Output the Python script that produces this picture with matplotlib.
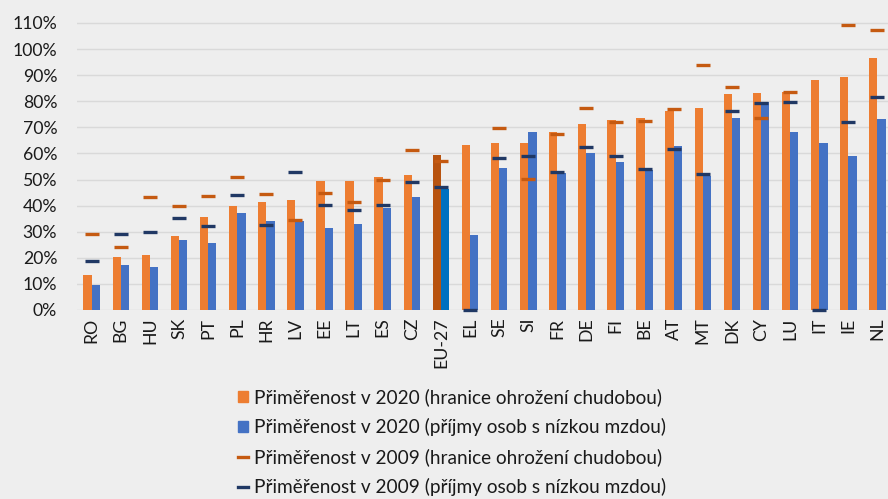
import matplotlib.pyplot as plt
import numpy as np
from matplotlib.lines import Line2D
from matplotlib.patches import Patch

# values, share of the threshold (1.0 = 100 %)
countries = ["RO", "BG", "HU", "SK", "PT", "PL", "HR", "LV", "EE", "LT", "ES", "CZ", "EU-27", "EL",
             "SE", "SI", "FR", "DE", "FI", "BE", "AT", "MT", "DK", "CY", "LU", "IT", "IE", "NL"]
poverty_2020 = [13.3, 20.2, 21.0, 28.5, 35.6, 39.8, 41.3, 42.3, 49.4, 49.5, 50.8, 51.7, 59.4, 63.1,
                63.9, 64.0, 68.1, 71.4, 72.7, 73.4, 76.4, 77.3, 82.8, 83.0, 83.5, 88.2, 89.1, 96.7]
lowwage_2020 = [9.6, 17.2, 16.3, 26.7, 25.7, 37.3, 34.0, 34.0, 31.3, 33.0, 39.2, 43.2, 46.4, 28.7,
                54.4, 68.1, 52.4, 60.0, 56.8, 53.6, 62.8, 51.5, 73.7, 79.7, 68.3, 64.0, 59.0, 73.2]
poverty_2009 = [29.1, 24.3, 43.4, 39.8, 43.7, 50.8, 44.4, 34.5, 44.8, 41.4, 49.7, 61.4, 57.1, np.nan,
                69.6, 50.2, 67.3, 77.5, 72.0, 72.4, 76.9, 93.9, 85.3, 73.4, 83.4, np.nan, 109.1, 107.2]
lowwage_2009 = [18.9, 29.1, 29.9, 35.2, 32.2, 44.1, 32.7, 52.9, 40.2, 38.3, 40.1, 48.9, 47.1, 0.0,
                58.2, 59.1, 53.0, 62.5, 58.9, 54.0, 61.6, 52.0, 76.1, 79.4, 79.7, 0.0, 71.9, 81.5]

legend_labels = [
    "Přiměřenost v 2020 (hranice ohrožení chudobou)",
    "Přiměřenost v 2020 (příjmy osob s nízkou mzdou)",
    "Přiměřenost v 2009 (hranice ohrožení chudobou)",
    "Přiměřenost v 2009 (příjmy osob s nízkou mzdou)",
]

ORANGE = "#ED7D31"
BLUE = "#4472C4"
ORANGE_DARK = "#C55A11"
NAVY = "#203864"
EU_ORANGE = "#B8530F"
EU_BLUE = "#0070C0"
BG = "#EEEEEE"

plt.rcParams["font.family"] = ["Lato", "DejaVu Sans"]
FS = 12.7

W, H = 888, 499
fig = plt.figure(figsize=(W / 100, H / 100), dpi=100, facecolor=BG)

# axes placed in pixel terms: x=-0.5 at 77 px, 28 slots of 29.1 px; 0 % at y=310, 10 % = 26.1 px
left_px, slot_px = 77.2, 29.1
bottom_px, unit_px = 310, 261
ymax = 1.11
ax = fig.add_axes([left_px / W, (H - bottom_px) / H, 28 * slot_px / W, ymax * unit_px / H])
ax.set_facecolor(BG)

x = np.arange(len(countries))
bw = 0.286
p20 = np.array(poverty_2020) / 100
l20 = np.array(lowwage_2020) / 100
p09 = np.array(poverty_2009) / 100
l09 = np.array(lowwage_2009) / 100

orange_cols = [EU_ORANGE if c == "EU-27" else ORANGE for c in countries]
blue_cols = [EU_BLUE if c == "EU-27" else BLUE for c in countries]

ax.bar(x - bw / 2, p20, bw, color=orange_cols, zorder=2)
ax.bar(x + bw / 2, l20, bw, color=blue_cols, zorder=2)
ax.hlines(p09, x - 0.24, x + 0.24, color=ORANGE_DARK, lw=2.4, zorder=3)
ax.hlines(l09, x - 0.24, x + 0.24, color=NAVY, lw=2.4, zorder=3, clip_on=False)

ax.set_xlim(-0.5, 27.5)
ax.set_ylim(0, ymax)
ax.set_yticks(np.arange(0, 1.11, 0.1))
ax.set_yticklabels([f"{v}%" for v in range(0, 111, 10)])
ax.set_xticks(x)
ax.set_xticklabels(countries, rotation=90)
ax.tick_params(axis="y", length=0, pad=14.4, labelsize=FS, colors="#1a1a1a")
ax.tick_params(axis="x", length=0, pad=5.5, labelsize=FS, colors="#1a1a1a")
ax.grid(axis="y", color="#D9D9D9", lw=1.0, zorder=0)
ax.set_axisbelow(True)
for s in ax.spines.values():
    s.set_visible(False)

handles = [
    Patch(color=ORANGE),
    Patch(color=BLUE),
    Line2D([], [], color=ORANGE_DARK, lw=2.4),
    Line2D([], [], color=NAVY, lw=2.4),
]
fig.legend(handles, legend_labels, loc="upper left", bbox_to_anchor=(228 / W, 1 - 379 / H),
           frameon=False, fontsize=13.7, handlelength=0.55, handleheight=0.55, handletextpad=0.3,
           labelspacing=0.63, borderpad=0, labelcolor="#1a1a1a")

fig.savefig("out.png", dpi=100, facecolor=BG)
